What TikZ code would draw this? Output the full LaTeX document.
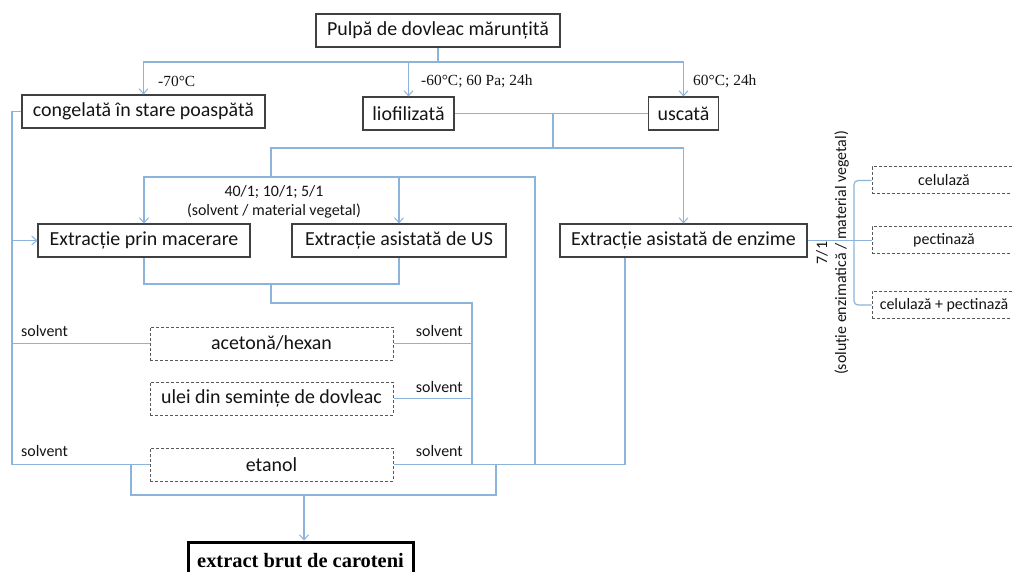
\documentclass[tikz,border=0pt]{standalone}
\usepackage{fontspec}
\setmainfont{Carlito}
\newfontfamily\tim{Liberation Serif}
\usetikzlibrary{arrows.meta,calc}
\definecolor{ln}{RGB}{140,179,217}
\definecolor{bd}{RGB}{64,64,64}
\definecolor{dsh}{RGB}{89,89,89}
\definecolor{tx}{RGB}{20,20,20}
\begin{document}
\begin{tikzpicture}[x=1bp,y=-1bp,
  box/.style={draw=bd,line width=1.1bp,inner sep=0,minimum height=33bp,text=tx,font=\fontsize{20}{24}\selectfont},
  dbox/.style={draw=dsh,dash pattern=on 3bp off 2bp,line width=1bp,inner sep=0,minimum height=33bp,text=tx,font=\fontsize{20}{24}\selectfont},
  sbox/.style={dbox,minimum height=27bp,minimum width=144bp,font=\fontsize{16}{19}\selectfont},
  con/.style={draw=ln,line width=1.2bp},
  arr/.style={con,-{Straight Barb[length=5bp,width=9bp,line width=1bp]}},
  lab/.style={inner sep=0,text=tx,font=\fontsize{16}{18.5}\selectfont},
  tlab/.style={inner sep=0,anchor=west,text=tx,font=\tim\fontsize{15.5}{18}\selectfont}]
\useasboundingbox (0,0) rectangle (1012,572);
\clip (0,0) rectangle (1012,572);
% boxes
\node[box,minimum width=244bp] (top) at (438,30.5) {Pulpă de dovleac mărunțită};
\node[box,minimum width=243bp] (cong) at (143.5,111.5) {congelată în stare poaspătă};
\node[box,minimum width=91bp] (liof) at (408.5,113.5) {liofilizată};
\node[box,minimum width=70bp] (usc) at (683.5,113.5) {uscată};
\node[box,minimum width=212bp] (mac) at (144,240.5) {Extracție prin macerare};
\node[box,minimum width=214bp] (us) at (399,240.5) {Extracție asistată de US};
\node[box,minimum width=247bp] (enz) at (683.5,240.5) {Extracție asistată de enzime};
\node[dbox,minimum width=243bp] (acet) at (271.5,343.5) {acetonă/hexan};
\node[dbox,minimum width=243bp] (ulei) at (271.5,398.5) {ulei din semințe de dovleac};
\node[dbox,minimum width=243bp] (etan) at (271.5,464.5) {etanol};
\node[draw=black,line width=3bp,inner sep=0,minimum width=225bp,minimum height=38bp,font=\tim\bfseries\fontsize{20.5}{24}\selectfont] (fin) at (300.5,561) {extract brut de caroteni};
\node[sbox] (cel) at (944,180.5) {celulază};
\node[sbox] (pect) at (944,240.5) {pectinază};
\node[sbox] (celp) at (944,305) {celulază + pectinază};
% labels
\node[tlab] (t1) at (158,81) {-70°C};
\node[tlab] (t2) at (421,81) {-60°C; 60 Pa; 24h};
\node[tlab] (t3) at (693,81) {60°C; 24h};
\node[lab,align=center] (rat) at (274,202) {40/1; 10/1; 5/1\\(solvent / material vegetal)};
\node[lab,align=center,rotate=90,font=\fontsize{16}{19}\selectfont] (rat2) at (832.5,253) {7/1\\(soluție enzimatică / material vegetal)};
\node[lab,anchor=west] (s1) at (21,331) {solvent};
\node[lab,anchor=east] (s2) at (463,331) {solvent};
\node[lab,anchor=east] (s3) at (463,387) {solvent};
\node[lab,anchor=west] (s4) at (21,451) {solvent};
\node[lab,anchor=east] (s5) at (463,451) {solvent};
% coordinates
\coordinate (h1) at (438,62);
\coordinate (j2) at (553,113.5);
\coordinate (h2) at (553,148);
\coordinate (k2) at (271,148);
\coordinate (h3) at (271,177);
\coordinate (r1) at (535,177);
\coordinate (r2) at (535,464.5);
\coordinate (l1) at (12,111.5);
\coordinate (l2) at (12,464.5);
\coordinate (b1) at (271,284);
\coordinate (b2) at (271,303);
\coordinate (b3) at (472,303);
\coordinate (b4) at (472,464.5);
\coordinate (e1) at (625,464.5);
\coordinate (c1) at (131,464.5);
\coordinate (c2) at (131,495);
\coordinate (c3) at (496,495);
\coordinate (c4) at (496,464.5);
\coordinate (c5) at (304,495);
\coordinate (v1) at (854,240.5);
% connectors
\draw[con] (top.south) -- (h1);
\draw[arr] (h1) -| (cong.north);
\draw[arr] (h1) -| (usc.north);
\draw[arr] (liof.north |- h1) -- (liof.north);
\draw[con] (liof.east) -- (usc.west);
\draw[con] (j2) -- (h2) -- (k2) -- (h3);
\draw[arr] (h2) -| (enz.north);
\draw[arr] (h3) -| (mac.north);
\draw[arr] (h3) -| (us.north);
\draw[con] (us.north |- h3) -- (r1) -- (r2);
\draw[con] (cong.west) -- (l1) -- (l2) -- (etan.west);
\draw[arr] (l1 |- mac.west) -- (mac.west);
\draw[con] (l1 |- acet.west) -- (acet.west);
\draw[con] (mac.south) |- (b1) -| (us.south);
\draw[con] (b1) -- (b2) -- (b3) -- (b4);
\draw[con] (acet.east) -- (b3 |- acet.east);
\draw[con] (ulei.east) -- (b3 |- ulei.east);
\draw[con] (etan.east) -- (e1) -- (e1 |- enz.south);
\draw[con] (c1) -- (c2) -- (c3) -- (c4);
\draw[arr] (c5) -- (c5 |- fin.north);
\draw[con] (enz.east) -- (pect.west);
\draw[con,rounded corners=4bp] (cel.west) -| (v1 |- celp.west) -- (celp.west);
\end{tikzpicture}
\end{document}
